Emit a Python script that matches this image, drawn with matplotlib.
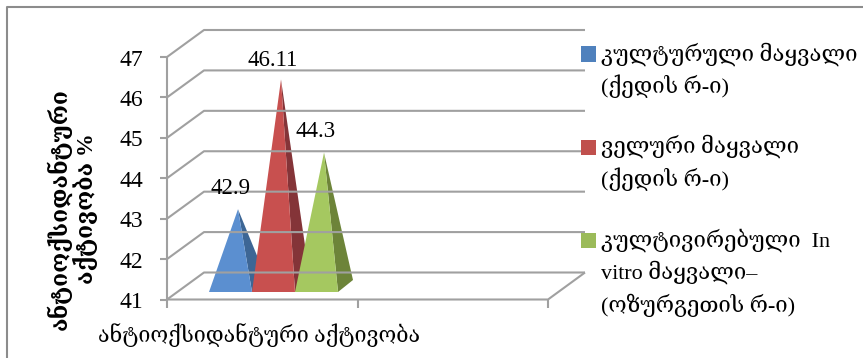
import matplotlib
matplotlib.use("Agg")
import matplotlib.pyplot as plt
from matplotlib.lines import Line2D
from matplotlib.patches import Polygon, Rectangle

W, H = 863, 358

plt.rcParams['font.family'] = ['Liberation Serif', 'DejaVu Serif', 'DejaVu Sans']

values = [42.9, 46.11, 44.3]
value_labels = ['42.9', '46.11', '44.3']
y_ticks = [41, 42, 43, 44, 45, 46, 47]
x_label = 'ანტიოქსიდანტური აქტივობა'
y_title = 'ანტიოქსიდანტური\nაქტივობა %'
series_names = ['კულტურული მაყვალი\n(ქედის რ-ი)',
                'ველური მაყვალი\n(ქედის რ-ი)',
                'კულტივირებული  In\nvitro მაყვალი–\n(ოზურგეთის რ-ი)']

front_colors = ['#5b8fd0', '#c8504f', '#a5c860']
side_colors = ['#3d6695', '#843438', '#6d8439']
legend_colors = ['#4f81bd', '#c0504d', '#9bbb59']
grid_color = '#a0a0a0'

fig = plt.figure(figsize=(W / 100, H / 100), dpi=100)
# axes box is the front face of the 3d chart
ax = fig.add_axes([167 / W, 1 - 299.5 / H, 381 / W, 242.5 / H])
ax.set_xlim(0, 1)
ax.set_ylim(41, 47)
ax.patch.set_visible(False)
for s in ax.spines.values():
    s.set_visible(False)
ax.set_xticks([])
ax.set_yticks([])

px = 1 / 381                 # one pixel along x
vy = 6 / 242.5               # one pixel along y, in value units
wall_dx = 37 * px
wall_dy = 27 * vy
lw = 1.5


def line(xs, ys, **kw):
    ax.plot(xs, ys, color=grid_color, lw=lw, clip_on=False,
            solid_capstyle='butt', **kw)


# back wall, side wall and floor
for t in y_ticks:
    line([0, wall_dx, 1 + wall_dx], [t, t + wall_dy, t + wall_dy])
    line([-7 * px, 0], [t, t])
    ax.text(-24 * px, t - 3 * vy, str(t), ha='right', va='center', fontsize=17)
line([0, 0], [41, 47])
line([0, 1, 1 + wall_dx], [41, 41, 41 + wall_dy])
for x in [0, 0.5, 1]:
    line([x, x], [41, 41 - 8 * vy])

# pyramids, front face then side face
bar_w = 43 * px
depth_x, depth_y = 15 * px, 12 * vy
start_x = 42 * px
base_y = 41 + 7.5 * vy
for i, v in enumerate(values):
    x0 = start_x + i * bar_w
    x1 = x0 + bar_w
    apex = (x0 + bar_w / 2 + depth_x / 2, v + depth_y / 2 + 7.5 * vy)
    ax.add_patch(Polygon([(x1, base_y), (x1 + depth_x, base_y + depth_y), apex],
                         closed=True, fc=side_colors[i], ec='none', clip_on=False))
    ax.add_patch(Polygon([(x0, base_y), (x1, base_y), apex],
                         closed=True, fc=front_colors[i], ec='none', clip_on=False))

# value labels
label_pos = [(231, 189), (273, 60), (316, 132)]
for (lx, ly), s in zip(label_pos, value_labels):
    fig.text(lx / W, 1 - ly / H, s, ha='center', va='center', fontsize=16.5)

fig.text(259 / W, 1 - 335 / H, x_label, ha='center', va='center', fontsize=15.5)
fig.text(72 / W, 1 - 209 / H, y_title, ha='center', va='center', rotation=90,
         fontsize=16.5, fontweight='bold', linespacing=1.05)

# legend
legend_y = [54, 147, 240]
for y, c, name in zip(legend_y, legend_colors, series_names):
    fig.add_artist(Rectangle((581 / W, 1 - (y + 7.5) / H), 15 / W, 15 / H,
                             transform=fig.transFigure, fc=c, ec='none'))
    fig.text(601 / W, 1 - (y - 12) / H, name, ha='left', va='top', fontsize=15.9,
             linespacing=1.5)

# chart border, only top and left fall inside the figure
fig.add_artist(Line2D([7 / W, 7 / W, 1], [0, 1 - 6.5 / H, 1 - 6.5 / H],
                      color='#8c8c8c', lw=1.5, transform=fig.transFigure))

fig.savefig('out.png', dpi=100)
